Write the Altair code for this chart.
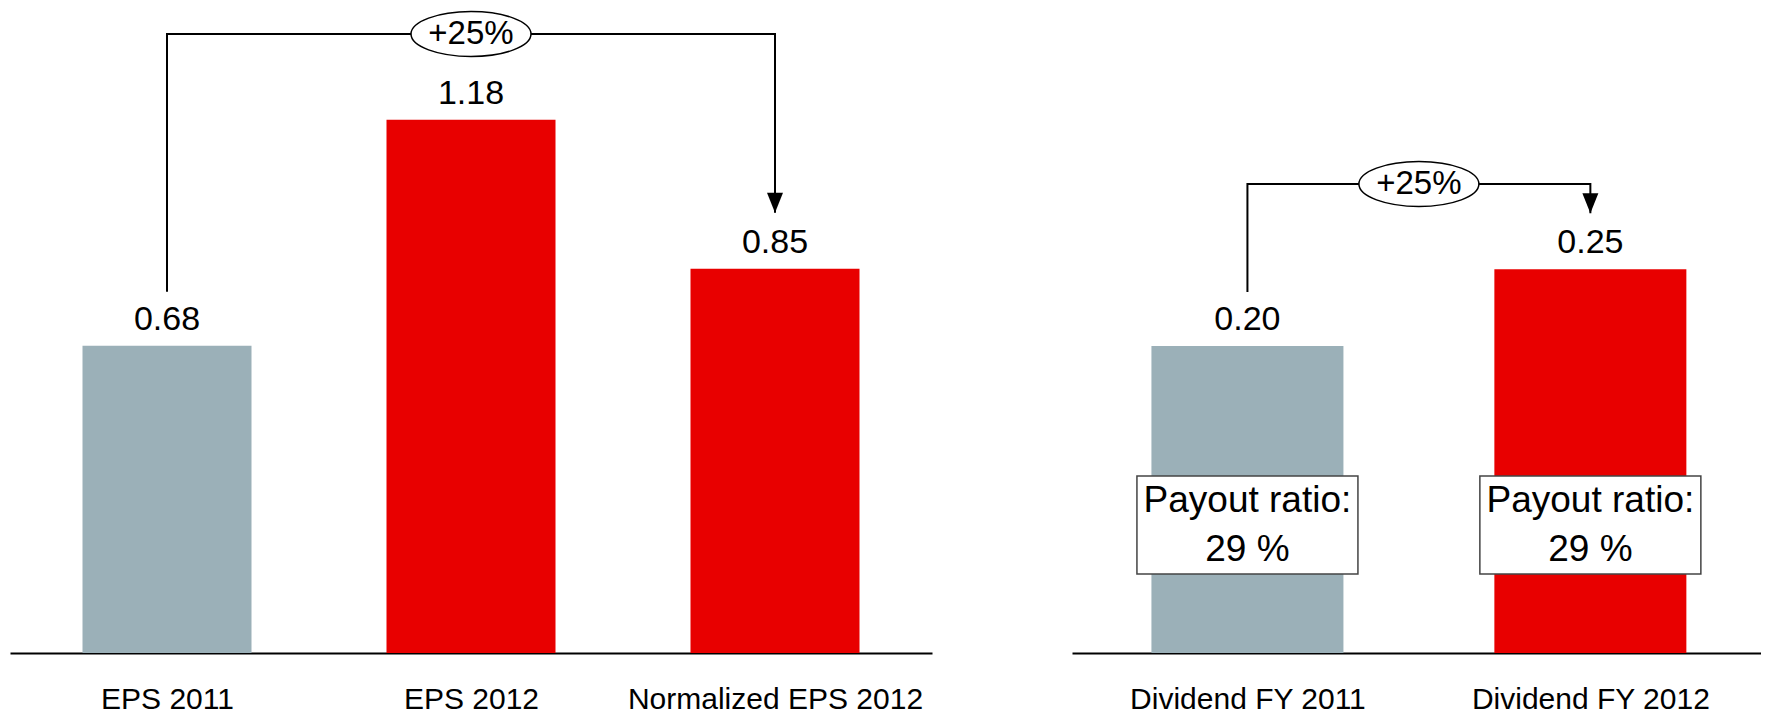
import json
import altair as alt
import pandas as pd

# ---------------- data ----------------
eps_labels = ["EPS 2011", "EPS 2012", "Normalized EPS 2012"]
eps_values = [0.68, 1.18, 0.85]
eps_text = ["0.68", "1.18", "0.85"]

div_labels = ["Dividend FY 2011", "Dividend FY 2012"]
div_values = [0.20, 0.25]
div_text = ["0.20", "0.25"]

payout_title = ["Payout ratio:", "Payout ratio:"]
payout_values = ["29 %", "29 %"]

growth_label = "+25%"

# ---------------- style ----------------
GRAY = "#9BB0B8"
RED = "#E80000"
eps_colors = [GRAY, RED, RED]
div_colors = [GRAY, RED]
FONT = "Liberation Sans"

PLOT_H = 644
ELLIPSE = "M -1 0 A 1 0.375 0 1 1 1 0 A 1 0.375 0 1 1 -1 0 Z"
ARROW = "M -1 -2.5 L 1 -2.5 L 0 0 Z"


def panel(labels, values, texts, colors, width, x_domain, px_per_unit, bar_w,
          b_from, b_to, top_px, payout=None):
    n = len(labels)
    ymax = PLOT_H / px_per_unit
    df = pd.DataFrame({"idx": list(range(n)), "value": values,
                       "text": texts, "color": colors})
    label_expr = json.dumps(labels) + "[datum.value]"
    X = alt.X("idx:Q",
              scale=alt.Scale(domain=x_domain, nice=False, zero=False),
              axis=alt.Axis(values=list(range(n)), labelExpr=label_expr,
                            ticks=False, tickSize=0, labelPadding=46,
                            labelFontSize=30, labelFont=FONT, labelLimit=0,
                            labelColor="black", labelBaseline="middle",
                            labelFlush=False, labelOverlap=False,
                            domainColor="black", domainWidth=2,
                            grid=False, title=None))
    ysc = alt.Scale(domain=[0, ymax], nice=False, zero=True)
    Y = lambda f: alt.Y(f, scale=ysc, axis=None)

    base = alt.Chart(df)
    bars = base.mark_bar(width=bar_w).encode(
        x=X, y=Y("value:Q"), color=alt.Color("color:N", scale=None))
    vals = base.mark_text(baseline="alphabetic", dy=-16, fontSize=34,
                          font=FONT, color="black").encode(
        x=X, y=Y("value:Q"), text="text:N")

    # bracket annotation (offsets in pixels converted to data units)
    start = values[b_from] + 54 / px_per_unit
    top = ymax - top_px / px_per_unit
    tip = values[b_to] + 56 / px_per_unit
    bdf = pd.DataFrame({"idx": [b_from, b_from, b_to, b_to],
                        "v": [start, top, top, tip],
                        "o": [0, 1, 2, 3]})
    bracket = alt.Chart(bdf).mark_line(color="black", strokeWidth=2).encode(
        x=X, y=Y("v:Q"), order="o:Q")
    adf = pd.DataFrame({"idx": [b_to], "v": [tip]})
    arrow = alt.Chart(adf).mark_point(shape=ARROW, size=256, filled=True,
                                      color="black", opacity=1).encode(
        x=X, y=Y("v:Q"))
    edf = pd.DataFrame({"idx": [(b_from + b_to) / 2], "v": [top],
                        "t": [growth_label]})
    ell = alt.Chart(edf).mark_point(shape=ELLIPSE, size=14400, filled=True,
                                    fill="white", stroke="black",
                                    strokeWidth=1.5, opacity=1).encode(
        x=X, y=Y("v:Q"))
    gtxt = alt.Chart(edf).mark_text(fontSize=33, font=FONT, color="black",
                                    baseline="middle").encode(
        x=X, y=Y("v:Q"), text="t:N")

    layers = [bars]
    if payout is not None:
        b_lo, b_hi, l1, l2 = payout
        pdf = pd.DataFrame({"idx": list(range(n)), "lo": [b_lo] * n,
                            "hi": [b_hi] * n, "l1y": [l1] * n,
                            "l2y": [l2] * n, "t1": payout_title,
                            "t2": payout_values})
        pbase = alt.Chart(pdf)
        box = pbase.mark_bar(width=221, fill="white", stroke="#444444",
                             strokeWidth=1.5).encode(
            x=X, y=Y("hi:Q"), y2="lo:Q")
        t1 = pbase.mark_text(fontSize=37, font=FONT, color="black",
                             baseline="middle").encode(
            x=X, y=Y("l1y:Q"), text="t1:N")
        t2 = pbase.mark_text(fontSize=37, font=FONT, color="black",
                             baseline="middle").encode(
            x=X, y=Y("l2y:Q"), text="t2:N")
        layers += [box, t1, t2]
    layers += [vals, bracket, arrow, ell, gtxt]
    return alt.layer(*layers).properties(width=width, height=PLOT_H)


left = panel(eps_labels, eps_values, eps_text, eps_colors, 922, [-0.5, 2.5],
             452, 169, 0, 2, 25)
right = panel(div_labels, div_values, div_text, div_colors, 689,
              [-0.497, 1.483], 1535, 192, 0, 1, 175,
              payout=(0.0515, 0.1153, 0.099, 0.0671))

chart = alt.hconcat(left, right, spacing=140).properties(
    padding={"left": 2, "top": 0, "right": 0, "bottom": 0}
).configure_view(stroke=None)

chart.save("out.html", embed_options={"renderer": "svg", "actions": False})
